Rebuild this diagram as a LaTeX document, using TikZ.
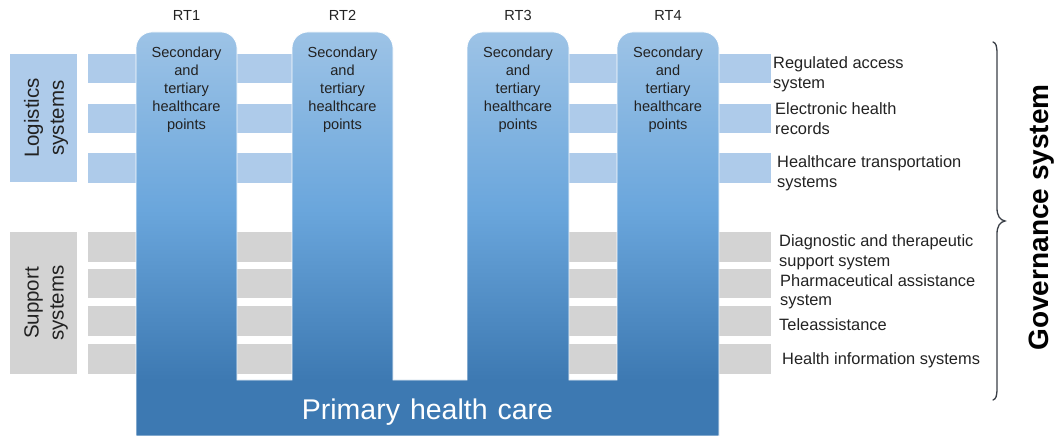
\documentclass[tikz,border=0pt]{standalone}
\usepackage{fontspec}
\setmainfont{Liberation Sans}

\definecolor{logblue}{HTML}{AECBEA}
\definecolor{supgray}{HTML}{D3D3D3}
\definecolor{coltop}{HTML}{9DC3E6}
\definecolor{colmid}{HTML}{6AA6DC}
\definecolor{phcblue}{HTML}{3D79B2}
\definecolor{inkdark}{HTML}{222222}
\definecolor{bracegray}{HTML}{3A3F47}

% vertical blend of the pillars: light at the top, solid blue across the base
\pgfdeclareverticalshading{pillars}{100bp}{%
  color(0bp)=(phcblue); color(31.9bp)=(phcblue);
  color(53bp)=(colmid); color(75bp)=(coltop); color(100bp)=(coltop)}

\begin{document}
\begin{tikzpicture}[x=1bp,y=-1bp,
  logbar/.style={fill=logblue},
  supbar/.style={fill=supgray},
  sidebox/.style={font=\fontsize{20.5bp}{25bp}\selectfont, text=inkdark,
    align=center, inner sep=0, rotate=90},
  rtlabel/.style={font=\fontsize{14.6bp}{18bp}\selectfont, text=inkdark,
    inner sep=0, anchor=base},
  coltext/.style={font=\fontsize{14.6bp}{18bp}\selectfont, text=inkdark,
    align=center, inner sep=0, anchor=base},
  syslabel/.style={font=\fontsize{16.4bp}{19.5bp}\selectfont, text=inkdark,
    align=left, inner sep=0, anchor=base west},
]
\useasboundingbox (0,0) rectangle (1056,436);

% side boxes
\fill[logbar] (10,54) rectangle (77,182);
\fill[supbar] (10,232) rectangle (77,374);
\node[sidebox] (logi) at (46,118) {Logistics\\systems};
\node[sidebox] (supp) at (46,303) {Support\\systems};

% logistics bars
\foreach \ya/\yb in {54/83,104/133,153/183} {
  \fill[logbar] (88,\ya) rectangle (292,\yb);
  \fill[logbar] (569,\ya) rectangle (771,\yb);
}
% support bars
\foreach \ya/\yb in {232/262,269/298,306/336,344/374} {
  \fill[supbar] (88,\ya) rectangle (292,\yb);
  \fill[supbar] (569,\ya) rectangle (771,\yb);
}

% pillars standing on the primary care base
\shade[shading=pillars, draw=white, line width=0.75bp]
  (136,436) -- (136,48)
    .. controls (136,39.16) and (143.16,32) .. (152,32) -- (221,32)
    .. controls (229.84,32) and (237,39.16) .. (237,48)
  -- (237,380) -- (292,380) -- (292,48)
    .. controls (292,39.16) and (299.16,32) .. (308,32) -- (377,32)
    .. controls (385.84,32) and (393,39.16) .. (393,48)
  -- (393,380) -- (467,380) -- (467,48)
    .. controls (467,39.16) and (474.16,32) .. (483,32) -- (553,32)
    .. controls (561.84,32) and (569,39.16) .. (569,48)
  -- (569,380) -- (617,380) -- (617,48)
    .. controls (617,39.16) and (624.16,32) .. (633,32) -- (703,32)
    .. controls (711.84,32) and (719,39.16) .. (719,48)
  -- (719,436) -- cycle;

% column headings
\node[rtlabel] (rt1) at (186.5,21) {RT1};
\node[rtlabel] (rt2) at (342.5,21) {RT2};
\node[rtlabel] (rt3) at (518,21) {RT3};
\node[rtlabel] (rt4) at (668,21) {RT4};

% column texts (anchored on the baseline of the last line)
\foreach \n/\cx in {c1/186.5,c2/342.5,c3/518,c4/668}
  \node[coltext] (\n) at (\cx,129.3) {Secondary\\and\\tertiary\\healthcare\\points};

\node[font=\fontsize{28.5bp}{30bp}\selectfont, text=white, inner sep=0, anchor=base]
  (phc) at (427.5,420) {Primary\hspace{10bp}health\hspace{10bp}care};

% system labels (anchored on the baseline of the last line)
\node[syslabel] (l1) at (773,88.5) {Regulated access\\system};
\node[syslabel] (l2) at (775,134.3) {Electronic health\\records};
\node[syslabel] (l3) at (777,187.5) {Healthcare transportation\\systems};
\node[syslabel] (s1) at (779,266.5) {Diagnostic and therapeutic\\support system};
\node[syslabel] (s2) at (780,306) {Pharmaceutical assistance\\system};
\node[syslabel] (s3) at (779,331) {Teleassistance};
\node[syslabel] (s4) at (782,364.3) {Health information systems};

% governance brace
\draw[bracegray, line width=1.3bp, line cap=round]
  (993,42) .. controls (996,43) and (997,46) .. (997,54)
  -- (997,208) .. controls (997,216) and (1000,220) .. (1005,221)
  .. controls (1000,222) and (997,226) .. (997,234)
  -- (997,388) .. controls (997,396) and (996,399) .. (993,400);
\node[font=\bfseries\fontsize{28bp}{30bp}\selectfont, text=black, inner sep=0,
  rotate=90] (gov) at (1042,217.5) {Governance system};
\end{tikzpicture}
\end{document}
